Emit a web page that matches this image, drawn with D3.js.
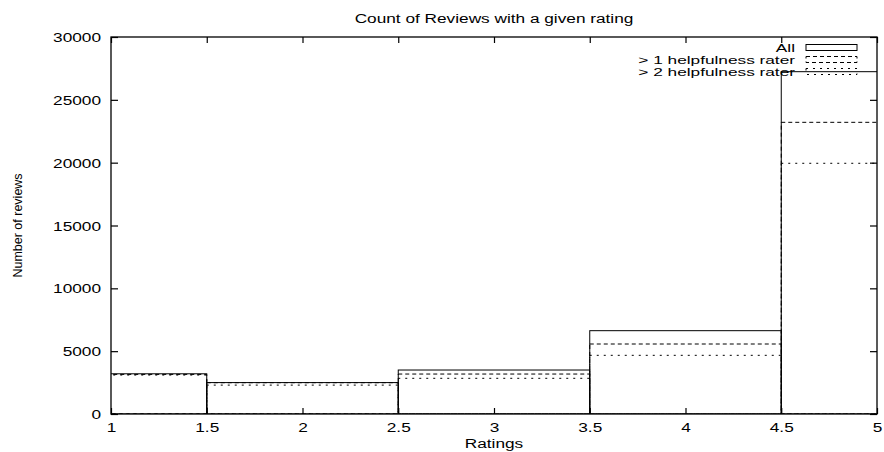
<!DOCTYPE html>
<html>
<head>
<meta charset="utf-8">
<script src="https://cdn.jsdelivr.net/npm/d3@7"></script>
<style>
  body { margin: 0; background: #fff; }
  text { font-family: "Liberation Sans", Arial, sans-serif; fill: #000; }
</style>
</head>
<body>
<div id="container"></div>
<script>
// ratings (box centres) and counts per series
let ratings = [1, 2, 3, 4, 5]
let allReviews = [3200, 2500, 3500, 6630, 27240]
let moreThan1 = [3150, 2490, 3180, 5570, 23210]
let moreThan2 = [3100, 2300, 2840, 4670, 19950]
let seriesNames = ['All', '> 1 helpfulness rater', '> 2 helpfulness rater']
let xTicks = [1, 1.5, 2, 2.5, 3, 3.5, 4, 4.5, 5]
let yTicks = [0, 5000, 10000, 15000, 20000, 25000, 30000]

let svgWidth = 884;
let svgHeight = 452;
let margin = {top: 37, right: 7, bottom: 38, left: 111};
let plotW = svgWidth - margin.left - margin.right;
let plotH = svgHeight - margin.top - margin.bottom;
let boxWidth = 1;
let stretch = 1.38;   // gnuplot's wide font
let fontSize = 12.5;

let xScale = d3.scaleLinear().domain([1, 5]).range([0, plotW])
let yScale = d3.scaleLinear().domain([0, 30000]).range([plotH, 0])

let svg = d3.select('#container')
            .append('svg')
            .attr('width', svgWidth)
            .attr('height', svgHeight)

let g = svg.append('g')
           .attr('transform', 'translate(' + margin.left + ',' + margin.top + ')')

g.append('clipPath').attr('id', 'plotClip')
 .append('rect').attr('width', plotW).attr('height', plotH)

// boxes, outline only
let series = [
  {name: seriesNames[0], values: allReviews, dash: null},
  {name: seriesNames[1], values: moreThan1, dash: '4,3'},
  {name: seriesNames[2], values: moreThan2, dash: '2,5'}
]

let boxes = g.append('g').attr('clip-path', 'url(#plotClip)')
series.forEach(s => {
  boxes.append('g')
    .selectAll('rect')
    .data(ratings)
    .enter()
    .append('rect')
    .attr('x', d => xScale(d - boxWidth / 2))
    .attr('width', xScale(1 + boxWidth) - xScale(1))
    .attr('y', (d, i) => yScale(s.values[i]))
    .attr('height', (d, i) => plotH - yScale(s.values[i]))
    .attr('fill', 'none')
    .attr('stroke', '#000')
    .attr('stroke-width', 1)
    .attr('stroke-dasharray', s.dash)
})

// axes with inward ticks, mirrored on top and right
let bottomAxis = g.append('g')
  .attr('transform', 'translate(0,' + plotH + ')')
  .call(d3.axisBottom(xScale).tickValues(xTicks).tickFormat(d3.format('')).tickSizeInner(-6).tickSizeOuter(0).tickPadding(9))
let leftAxis = g.append('g')
  .call(d3.axisLeft(yScale).tickValues(yTicks).tickFormat(d3.format('d')).tickSizeInner(-7).tickSizeOuter(0).tickPadding(10))
g.append('g')
  .call(d3.axisTop(xScale).tickValues(xTicks).tickFormat('').tickSizeInner(-6).tickSizeOuter(0))
g.append('g')
  .attr('transform', 'translate(' + plotW + ',0)')
  .call(d3.axisRight(yScale).tickValues(yTicks).tickFormat('').tickSizeInner(-7).tickSizeOuter(0))

g.selectAll('.domain').remove()
g.selectAll('.tick line').attr('stroke', '#000').attr('stroke-width', 1.2)

bottomAxis.selectAll('text')
  .attr('font-size', fontSize)
  .attr('font-family', '"Liberation Sans", Arial, sans-serif')
  .attr('transform', 'scale(' + stretch + ',1)')
leftAxis.selectAll('text')
  .attr('font-size', fontSize)
  .attr('font-family', '"Liberation Sans", Arial, sans-serif')
  .attr('x', -10 / stretch)
  .attr('dy', '0.36em')
  .attr('transform', 'scale(' + stretch + ',1)')

g.append('rect')
  .attr('width', plotW)
  .attr('height', plotH)
  .attr('fill', 'none')
  .attr('stroke', '#000')
  .attr('stroke-width', 1.3)

function wideText(parent, x, y, str, anchor, size, sx) {
  return parent.append('text')
    .attr('transform', 'translate(' + x + ',' + y + ') scale(' + (sx || stretch) + ',1)')
    .attr('text-anchor', anchor || 'middle')
    .attr('font-size', size || fontSize)
    .text(str)
}

// title and axis labels
wideText(svg, margin.left + plotW / 2, 23, 'Count of Reviews with a given rating')
wideText(svg, margin.left + plotW / 2, 448, 'Ratings')
svg.append('text')
  .attr('transform', 'translate(22,' + (margin.top + plotH / 2) + ') rotate(-90)')
  .attr('text-anchor', 'middle')
  .attr('font-size', fontSize)
  .text('Number of reviews')

// legend (slightly smaller, wider glyphs so the tight rows don't collide)
let legendSize = 11;
let legend = svg.append('g')
series.forEach((s, i) => {
  let cy = 47.5 + i * 12;
  wideText(legend, 795, cy + 4, s.name, 'end', legendSize, stretch * fontSize / legendSize)
  legend.append('rect')
    .attr('x', 806).attr('y', cy - 3)
    .attr('width', 51).attr('height', 6)
    .attr('fill', 'none')
    .attr('stroke', '#000')
    .attr('stroke-width', 1)
    .attr('stroke-dasharray', s.dash)
})
</script>
</body>
</html>
